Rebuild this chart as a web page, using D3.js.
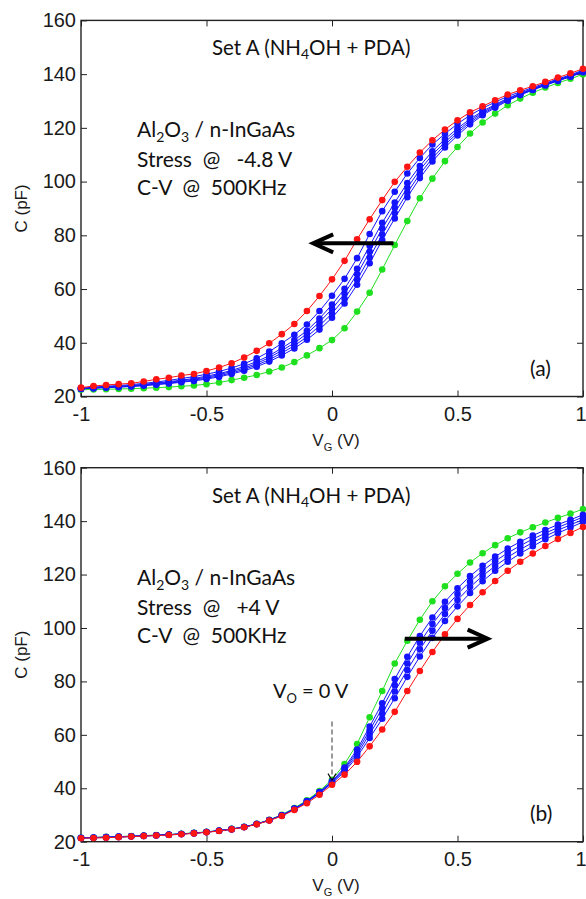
<!DOCTYPE html>
<html>
<head>
<meta charset="utf-8">
<script src="https://cdn.jsdelivr.net/npm/d3@7"></script>
<style>
  body { margin: 0; background: #fff; }
  svg { display: block; }
</style>
</head>
<body>
<div id="chart"></div>
<script>
// gate voltage grid (V)
const vg = [-1, -0.95, -0.9, -0.85, -0.8, -0.75, -0.7, -0.65, -0.6, -0.55, -0.5,
  -0.45, -0.4, -0.35, -0.3, -0.25, -0.2, -0.15, -0.1, -0.05, 0,
  0.05, 0.1, 0.15, 0.2, 0.25, 0.3, 0.35, 0.4, 0.45, 0.5,
  0.55, 0.6, 0.65, 0.7, 0.75, 0.8, 0.85, 0.9, 0.95, 1];

// (a) stress @ -4.8 V, capacitance in pF
const topGreen = [22.5, 22.6, 22.7, 22.8, 22.9, 23.1, 23.3, 23.5, 23.8, 24.1, 24.6,
  25.2, 26.1, 27.0, 28.0, 29.3, 30.8, 32.8, 35.3, 38.0, 41.0,
  45.4, 51.6, 58.6, 67.3, 76.4, 85.3, 93.8, 101.1, 107.6, 112.9,
  117.9, 122.0, 125.3, 128.4, 130.9, 133.1, 135.0, 136.7, 138.3, 139.9];
const topBlue1 = [23.1, 23.5, 23.8, 24.1, 24.4, 24.9, 25.4, 26.0, 26.7, 27.4, 28.3,
  29.3, 30.6, 32.2, 34.2, 36.7, 39.8, 43.0, 46.8, 51.8, 57.5,
  63.8, 71.5, 80.5, 89.0, 96.2, 103.0, 108.8, 113.8, 117.8, 121.5,
  124.7, 127.3, 129.6, 131.7, 133.4, 135.0, 136.6, 138.2, 139.7, 141.5];
const topBlue2 = [23.0, 23.3, 23.6, 23.8, 24.1, 24.5, 25.0, 25.5, 26.1, 26.7, 27.6,
  28.5, 29.7, 31.2, 33.0, 35.2, 38.0, 41.0, 44.5, 49.0, 54.2,
  60.1, 67.5, 76.1, 84.7, 92.2, 99.5, 105.8, 111.3, 115.8, 119.8,
  123.3, 126.2, 128.7, 131.0, 132.9, 134.6, 136.3, 137.9, 139.4, 141.2];
const topBlue3 = [22.9, 23.2, 23.5, 23.7, 24.0, 24.4, 24.8, 25.3, 25.8, 26.4, 27.2,
  28.1, 29.3, 30.6, 32.3, 34.5, 37.1, 39.9, 43.4, 47.7, 52.6,
  58.3, 65.5, 73.9, 82.5, 90.3, 97.7, 104.3, 110.0, 114.7, 118.9,
  122.7, 125.7, 128.3, 130.7, 132.7, 134.4, 136.1, 137.8, 139.3, 141.0];
const topBlue4 = [22.9, 23.1, 23.4, 23.6, 23.8, 24.2, 24.6, 25.0, 25.5, 26.1, 26.8,
  27.7, 28.8, 30.1, 31.7, 33.7, 36.2, 38.9, 42.2, 46.3, 50.9,
  56.4, 63.5, 71.7, 80.3, 88.3, 95.9, 102.8, 108.7, 113.7, 118.1,
  122.0, 125.2, 127.9, 130.4, 132.4, 134.2, 136.0, 137.6, 139.1, 140.9];
const topBlue5 = [22.8, 23.1, 23.3, 23.5, 23.7, 24.0, 24.4, 24.8, 25.3, 25.8, 26.5,
  27.3, 28.4, 29.6, 31.1, 33.0, 35.3, 37.9, 41.1, 44.9, 49.3,
  54.6, 61.6, 69.6, 78.2, 86.3, 94.2, 101.3, 107.5, 112.7, 117.2,
  121.3, 124.7, 127.5, 130.1, 132.2, 134.1, 135.8, 137.5, 139.0, 140.7];
const topRed = [23.3, 23.9, 24.3, 24.6, 24.9, 25.6, 26.4, 27.0, 27.8, 28.4, 29.5,
  30.8, 32.4, 34.5, 37.0, 39.8, 43.2, 47.0, 51.8, 57.4, 63.6,
  70.5, 78.5, 86.0, 93.1, 99.9, 105.5, 110.8, 115.4, 119.4, 122.8,
  125.8, 128.0, 130.3, 132.4, 134.0, 135.5, 137.1, 138.7, 140.3, 142.0];

// (b) stress @ +4 V
const botGreen = [21.5, 21.6, 21.8, 21.9, 22.1, 22.3, 22.5, 22.7, 23.0, 23.3, 23.7,
  24.2, 24.8, 25.6, 26.7, 28.2, 30.1, 32.6, 35.5, 39.0, 43.2,
  49.1, 56.6, 66.6, 76.4, 86.7, 95.2, 103.1, 110.0, 115.6, 120.3,
  124.5, 128.0, 131.0, 133.6, 135.8, 137.7, 139.5, 141.2, 142.8, 144.5];
const botBlue1 = [21.5, 21.6, 21.7, 21.9, 22.0, 22.2, 22.4, 22.6, 22.9, 23.2, 23.6,
  24.1, 24.7, 25.5, 26.6, 28.1, 29.9, 32.4, 35.2, 38.6, 42.6,
  47.8, 54.5, 63.1, 71.8, 80.9, 89.2, 97.0, 103.9, 109.8, 114.9,
  119.4, 123.3, 126.7, 129.7, 132.3, 134.6, 136.7, 138.7, 140.5, 142.4];
const botBlue2 = [21.4, 21.5, 21.7, 21.8, 22.0, 22.2, 22.4, 22.6, 22.9, 23.2, 23.6,
  24.1, 24.7, 25.5, 26.6, 28.1, 29.9, 32.3, 35.1, 38.5, 42.4,
  47.3, 53.6, 61.7, 69.9, 78.6, 86.7, 94.5, 101.5, 107.5, 112.7,
  117.3, 121.4, 125.0, 128.1, 130.8, 133.3, 135.5, 137.6, 139.6, 141.5];
const botBlue3 = [21.4, 21.5, 21.6, 21.8, 22.0, 22.2, 22.4, 22.6, 22.9, 23.2, 23.6,
  24.1, 24.7, 25.5, 26.6, 28.0, 29.8, 32.2, 35.0, 38.3, 42.2,
  46.8, 52.7, 60.3, 68.0, 76.2, 84.3, 92.0, 99.0, 105.2, 110.5,
  115.3, 119.5, 123.2, 126.5, 129.4, 132.0, 134.4, 136.6, 138.6, 140.6];
const botBlue4 = [21.4, 21.5, 21.6, 21.8, 21.9, 22.1, 22.3, 22.6, 22.9, 23.2, 23.6,
  24.1, 24.7, 25.5, 26.6, 28.0, 29.8, 32.1, 34.8, 38.1, 41.9,
  46.2, 51.8, 58.8, 66.0, 73.7, 81.7, 89.3, 96.3, 102.6, 108.1,
  113.1, 117.5, 121.4, 124.8, 127.9, 130.6, 133.2, 135.5, 137.6, 139.7];
const botRed = [21.3, 21.4, 21.5, 21.7, 21.9, 22.1, 22.3, 22.5, 22.8, 23.1, 23.5,
  24.0, 24.6, 25.4, 26.5, 27.9, 29.6, 31.9, 34.4, 37.6, 41.3,
  45.1, 49.9, 55.7, 62.0, 68.6, 76.4, 83.9, 91.0, 97.6, 103.4,
  108.6, 113.4, 117.6, 121.4, 124.8, 127.9, 130.7, 133.3, 135.6, 137.8];

const xTicks = [-1, -0.5, 0, 0.5, 1];
const xTickLabels = ["-1", "-0.5", "0", "0.5", "1"];
const yTicks = [20, 40, 60, 80, 100, 120, 140, 160];

const W = 586, H = 899;
const tickFont = "'Liberation Sans', Arial, sans-serif";
const noteFont = "Lato, 'Open Sans', sans-serif";

const svg = d3.select("#chart").append("svg")
  .attr("width", W)
  .attr("height", H);

const x = d3.scaleLinear().domain([-1, 1]).range([81, 583]);

function drawPanel(top, bottom, series, notes) {
  const y = d3.scaleLinear().domain([20, 160]).range([bottom, top]);
  const g = svg.append("g");

  // axes with inward ticks (matlab style)
  const xa = g.append("g").attr("transform", `translate(0,${bottom})`)
    .call(d3.axisBottom(x).tickValues(xTicks).tickSizeInner(-6).tickSizeOuter(0)
      .tickPadding(10).tickFormat((d, i) => xTickLabels[i]));
  const ya = g.append("g").attr("transform", "translate(81,0)")
    .call(d3.axisLeft(y).tickValues(yTicks).tickSizeInner(-6).tickSizeOuter(0)
      .tickPadding(5));
  g.append("g").attr("transform", `translate(0,${top})`)
    .call(d3.axisTop(x).tickValues(xTicks).tickSizeInner(-6).tickSizeOuter(0).tickFormat(""));
  g.append("g").attr("transform", "translate(583,0)")
    .call(d3.axisRight(y).tickValues(yTicks).tickSizeInner(-6).tickSizeOuter(0).tickFormat(""));

  [xa, ya].forEach(a => a.selectAll("text")
    .attr("font-family", tickFont).attr("font-size", 20).attr("fill", "#1a1a1a"));
  // last x label sits on the page edge; keep it inside
  xa.selectAll("text").filter(d => d === 1).attr("text-anchor", "end").attr("x", 3);
  g.selectAll(".tick line").attr("stroke", "#222");
  g.selectAll(".domain").attr("stroke", "none");

  g.append("rect")
    .attr("x", 81).attr("y", top)
    .attr("width", 583 - 81).attr("height", bottom - top)
    .attr("fill", "none").attr("stroke", "#222").attr("stroke-width", 1.4);

  const line = d3.line().x((d, i) => x(vg[i])).y(d => y(d));

  series.forEach(s => {
    g.append("path").datum(s.values)
      .attr("d", line)
      .attr("fill", "none")
      .attr("stroke", s.color)
      .attr("stroke-width", 1);
    g.append("g").selectAll("circle").data(s.values).join("circle")
      .attr("cx", (d, i) => x(vg[i]))
      .attr("cy", d => y(d))
      .attr("r", 3.3)
      .attr("fill", s.color);
  });

  // axis titles
  g.append("text")
    .attr("transform", `translate(27,${(top + bottom) / 2}) rotate(-90)`)
    .attr("text-anchor", "middle")
    .attr("font-family", tickFont).attr("font-size", 17).attr("fill", "#1a1a1a")
    .text("C (pF)");
  const xl = g.append("text")
    .attr("x", 336).attr("y", bottom + 49)
    .attr("text-anchor", "middle")
    .attr("font-family", tickFont).attr("font-size", 17).attr("fill", "#1a1a1a");
  xl.append("tspan").text("V");
  xl.append("tspan").attr("dy", 5).attr("font-size", 11).text("G");
  xl.append("tspan").attr("dy", -5).text(" (V)");

  // annotations
  const t1 = g.append("text").attr("x", 212).attr("y", top + 35)
    .attr("font-family", noteFont).attr("font-size", 20.5).attr("fill", "#111");
  t1.append("tspan").text("Set A (NH");
  t1.append("tspan").attr("dy", 4).attr("font-size", 14).text("4");
  t1.append("tspan").attr("dy", -4).text("OH + PDA)");

  const t2 = g.append("text").attr("x", 137).attr("y", top + 117)
    .attr("font-family", noteFont).attr("font-size", 21).attr("fill", "#111");
  t2.append("tspan").text("Al");
  t2.append("tspan").attr("dy", 5).attr("font-size", 14).text("2");
  t2.append("tspan").attr("dy", -5).text("O");
  t2.append("tspan").attr("dy", 5).attr("font-size", 14).text("3");
  t2.append("tspan").attr("dy", -5).text(" / n-InGaAs");

  g.append("text").attr("x", 137).attr("y", top + 147)
    .attr("font-family", noteFont).attr("font-size", 21).attr("fill", "#111")
    .attr("xml:space", "preserve")
    .text(notes.stress);
  g.append("text").attr("x", 137).attr("y", top + 175)
    .attr("font-family", noteFont).attr("font-size", 21).attr("fill", "#111")
    .attr("xml:space", "preserve")
    .text("C-V  @  500KHz");
  g.append("text").attr("x", 530).attr("y", bottom - 21)
    .attr("font-family", noteFont).attr("font-size", 21).attr("fill", "#111")
    .text(notes.tag);

  // shift arrow
  const a = notes.arrow;
  const x0 = x(a.from), x1 = x(a.to), ya0 = y(a.c);
  const dir = x1 > x0 ? 1 : -1;
  g.append("line")
    .attr("x1", x0).attr("y1", ya0).attr("x2", x1 - dir * 2).attr("y2", ya0)
    .attr("stroke", "#000").attr("stroke-width", 4);
  g.append("path")
    .attr("d", `M${x1 - dir * 20},${ya0 - 9} L${x1},${ya0} L${x1 - dir * 20},${ya0 + 9}`)
    .attr("fill", "none").attr("stroke", "#000").attr("stroke-width", 4)
    .attr("stroke-linejoin", "miter");

  return y;
}

drawPanel(20.4, 396.5, [
  { values: topGreen, color: "#1fe01f" },
  { values: topBlue5, color: "#1414ff" },
  { values: topBlue4, color: "#1414ff" },
  { values: topBlue3, color: "#1414ff" },
  { values: topBlue2, color: "#1414ff" },
  { values: topBlue1, color: "#1414ff" },
  { values: topRed, color: "#ff1414" }
], { stress: "Stress  @   -4.8 V", tag: "(a)", arrow: { from: 0.245, to: -0.075, c: 77 } });

const yb = drawPanel(467.7, 841.7, [
  { values: botGreen, color: "#1fe01f" },
  { values: botBlue1, color: "#1414ff" },
  { values: botBlue2, color: "#1414ff" },
  { values: botBlue3, color: "#1414ff" },
  { values: botBlue4, color: "#1414ff" },
  { values: botRed, color: "#ff1414" }
], { stress: "Stress  @   +4 V", tag: "(b)", arrow: { from: 0.29, to: 0.62, c: 96 } });

// V_O = 0 V marker in panel (b)
const vo = svg.append("text").attr("x", 273).attr("y", 698)
  .attr("font-family", noteFont).attr("font-size", 20).attr("fill", "#111");
vo.append("tspan").text("V");
vo.append("tspan").attr("dy", 5).attr("font-size", 13).text("O");
vo.append("tspan").attr("dy", -5).text(" = 0 V");

svg.append("line")
  .attr("x1", x(0)).attr("y1", yb(65)).attr("x2", x(0)).attr("y2", yb(44))
  .attr("stroke", "#333").attr("stroke-width", 1).attr("stroke-dasharray", "5,3");
svg.append("path")
  .attr("d", `M${x(0) - 4},${yb(45.5)} L${x(0)},${yb(43)} L${x(0) + 4},${yb(45.5)}`)
  .attr("fill", "none").attr("stroke", "#111").attr("stroke-width", 1.2);
</script>
</body>
</html>
